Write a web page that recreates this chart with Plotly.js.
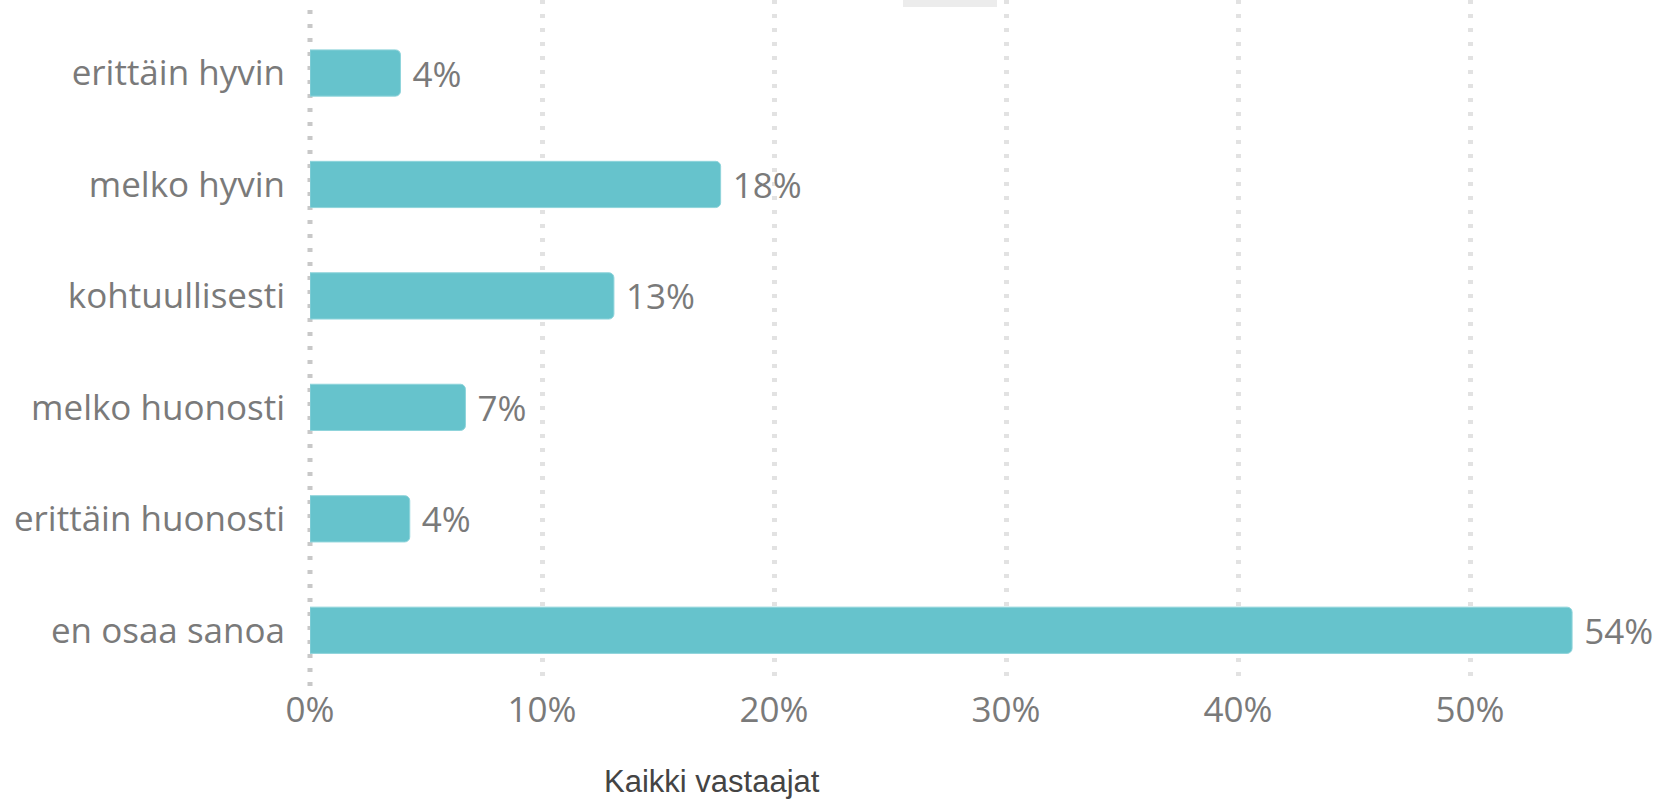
<!DOCTYPE html>
<html>
<head>
<meta charset="utf-8">
<script src="https://cdn.plot.ly/plotly-3.0.1.min.js"></script>
<style>
  html, body { margin: 0; padding: 0; background: #fff; }
  #chart { width: 1660px; height: 799px; }
</style>
</head>
<body>
<div id="chart"></div>
<script>
// Answer categories, top to bottom
const categories = [
  'erittäin hyvin',
  'melko hyvin',
  'kohtuullisesti',
  'melko huonosti',
  'erittäin huonosti',
  'en osaa sanoa',
];
// Share of respondents, percent
const shares = [3.9, 17.7, 13.1, 6.7, 4.3, 54.4];
const xTicks = [0, 10, 20, 30, 40, 50];
const xTickLabels = ['0%', '10%', '20%', '30%', '40%', '50%'];
const seriesName = 'Kaikki vastaajat';

const labelFont = { family: 'Open Sans, sans-serif', size: 35, color: '#7a7a7a' };

const trace = {
  type: 'bar',
  orientation: 'h',
  y: categories,
  x: shares,
  name: seriesName,
  text: shares.map((v) => '\u00a0' + Math.round(v) + '%'),
  textposition: 'outside',
  textfont: labelFont,
  cliponaxis: false,
  constraintext: 'none',
  hoverinfo: 'skip',
  marker: {
    color: '#66c3cc',
    cornerradius: 5,
    line: { color: '#8fd4db', width: 1 },
  },
};

const layout = {
  width: 1660,
  height: 799,
  margin: { l: 310, r: 74, t: 0, b: 113 },
  paper_bgcolor: '#fff',
  plot_bgcolor: '#fff',
  showlegend: false,
  bargap: 0.585,
  font: labelFont,
  xaxis: {
    range: [0, 55],
    tickvals: xTicks,
    ticktext: xTickLabels,
    tickfont: labelFont,
    ticks: '',
    showgrid: true,
    gridcolor: '#e2e2e2',
    gridwidth: 5,
    griddash: '4px,10px',
    zeroline: false,
    showline: false,
    fixedrange: true,
  },
  yaxis: {
    type: 'category',
    categoryorder: 'array',
    categoryarray: categories,
    range: [5.5, -0.655],
    tickfont: labelFont,
    ticklabelstandoff: 24,
    showgrid: false,
    zeroline: false,
    showline: false,
    fixedrange: true,
  },
  shapes: [
    // dotted axis line at 0%
    {
      type: 'line',
      xref: 'paper', yref: 'paper',
      x0: 0, x1: 0, y0: 0, y1: 1,
      line: { color: '#c8c8c8', width: 5, dash: '4px,10px' },
      layer: 'between',
    },
    {
      type: 'rect',
      xref: 'paper', yref: 'paper',
      x0: 0.4647, x1: 0.5384, y0: 0.9898, y1: 1.02,
      fillcolor: '#ececec',
      line: { width: 0 },
    },
  ],
  annotations: [
    {
      text: seriesName,
      xref: 'paper', yref: 'paper',
      x: (712 - 310) / 1276, y: -0.139,
      xanchor: 'center', yanchor: 'middle',
      showarrow: false,
      font: { family: 'Liberation Sans, Arial, sans-serif', size: 31, color: '#444' },
    },
  ],
};

Plotly.newPlot('chart', [trace], layout, { displayModeBar: false, staticPlot: true });
</script>
</body>
</html>
